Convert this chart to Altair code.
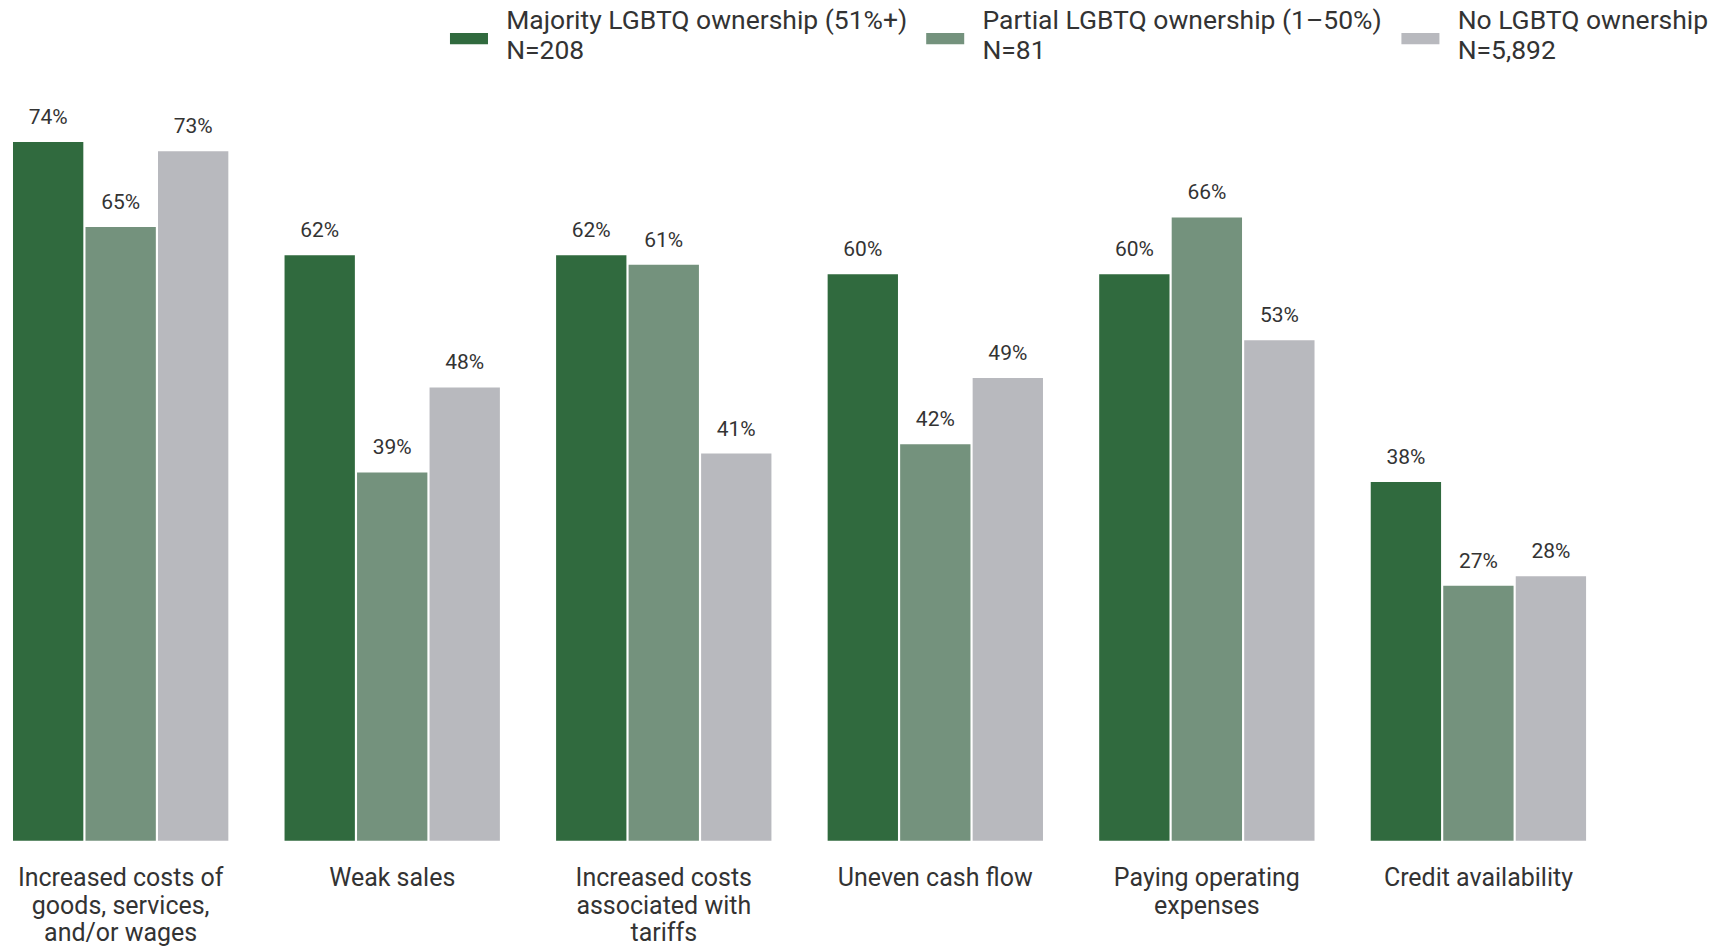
import altair as alt
import pandas as pd

categories = [
    "Increased costs of goods, services, and/or wages",
    "Weak sales",
    "Increased costs associated with tariffs",
    "Uneven cash flow",
    "Paying operating expenses",
    "Credit availability",
]
category_lines = [
    "Increased costs of|goods, services,|and/or wages",
    "Weak sales",
    "Increased costs|associated with|tariffs",
    "Uneven cash flow",
    "Paying operating|expenses",
    "Credit availability",
]
series = [
    "Majority LGBTQ ownership (51%+)|N=208",
    "Partial LGBTQ ownership (1–50%)|N=81",
    "No LGBTQ ownership|N=5,892",
]
majority = [74, 62, 62, 60, 60, 38]
partial = [65, 39, 61, 42, 66, 27]
none_ = [73, 48, 41, 49, 53, 28]
colors = ["#306a3e", "#74927d", "#b8b9be"]

rows = []
for i, c in enumerate(category_lines):
    for s, vals in zip(series, [majority, partial, none_]):
        rows.append({"category": c, "series": s, "value": vals[i] / 100})
df = pd.DataFrame(rows)

FONT = "Roboto"

base = alt.Chart(df).encode(
    x=alt.X(
        "category:N",
        sort=category_lines,
        scale=alt.Scale(paddingInner=0.207, paddingOuter=0),
        axis=alt.Axis(
            title=None,
            labelAngle=0,
            ticks=False,
            domain=False,
            labelPadding=25,
            labelFontSize=25,
            labelFont=FONT,
            labelColor="#333333",
            labelLineHeight=27.5,
            labelBaseline="top",
            labelLimit=0,
            labelExpr="split(datum.label, '|')",
        ),
    ),
    xOffset=alt.XOffset(
        "series:N", sort=series, scale=alt.Scale(paddingInner=0.03, paddingOuter=0)
    ),
    y=alt.Y("value:Q", scale=alt.Scale(domain=[0, 0.818], nice=False), axis=None),
)

bars = base.mark_bar().encode(
    color=alt.Color(
        "series:N",
        sort=series,
        scale=alt.Scale(domain=series, range=colors),
        legend=alt.Legend(
            title=None,
            orient="none",
            legendX=443,
            legendY=-61,
            direction="horizontal",
            columns=3,
            columnPadding=18.5,
            labelFont=FONT,
            labelFontSize=26.5,
            labelColor="#333333",
            labelLimit=0,
            labelOffset=24,
            labelBaseline="middle",
            labelExpr="split(datum.label, '|')",
            symbolType="M-3.17,2.08L3.17,2.08L3.17,3.92L-3.17,3.92Z",
            symbolSize=144,
            symbolStrokeWidth=0,
            symbolOpacity=1,
        ),
    )
)

labels = base.mark_text(
    baseline="middle", dy=-24, font=FONT, fontSize=21, color="#333333"
).encode(text=alt.Text("value:Q", format=".0%"))

chart = (
    alt.layer(bars, labels)
    .properties(
        width=1574,
        height=773,
        padding={"left": 5, "top": 60, "right": 130, "bottom": 110},
        autosize=alt.AutoSizeParams(type="none"),
    )
    .configure(style={"guide-label": {"lineHeight": 30}})
    .configure_view(stroke=None)
)

chart.save("out.html", embed_options={"renderer": "svg", "actions": False})
